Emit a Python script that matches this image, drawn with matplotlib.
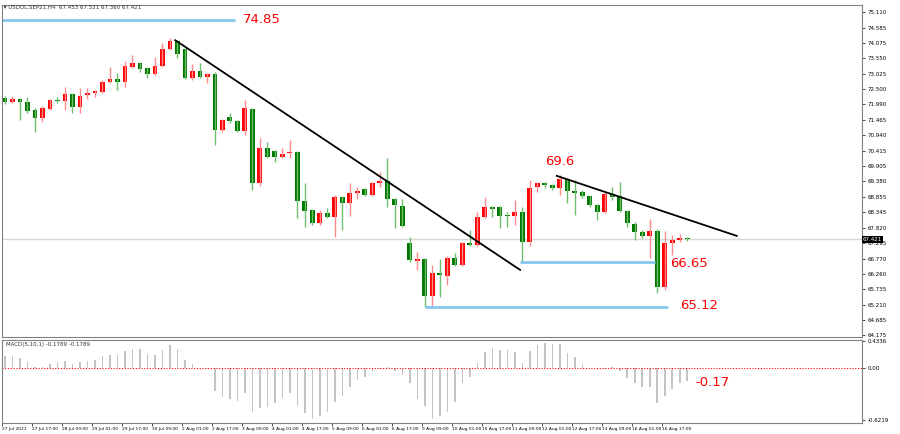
import matplotlib
matplotlib.use("Agg")
from matplotlib import pyplot as plt
import numpy as np

# H4 candles, USOIL SEP21 (red = up, green = down)
opens = [72.20, 72.07, 72.17, 72.07, 71.80, 71.53, 71.83, 72.14, 72.10, 72.34, 71.90, 72.30, 72.37, 72.41, 72.74,
         72.85, 72.74, 73.25, 73.39, 73.22, 73.02, 73.29, 73.86, 74.13, 73.86, 72.88, 73.12, 72.91, 73.02, 71.12,
         71.56, 71.43, 71.09, 71.83, 69.33, 70.51, 70.41, 70.21, 70.34, 70.38, 68.72, 68.42, 67.98, 68.32, 68.18,
         68.86, 68.66, 68.99, 69.13, 68.93, 69.33, 69.40, 68.79, 68.55, 67.30, 66.69, 66.76, 65.52, 66.29, 66.19,
         66.80, 66.56, 67.30, 67.24, 68.18, 68.52, 68.52, 68.25, 68.22, 68.35, 67.34, 69.20, 69.33, 69.26, 69.16,
         69.47, 69.06, 69.03, 68.89, 68.59, 68.35, 68.96, 68.89, 68.39, 67.94, 67.67, 67.54, 67.71, 65.82, 67.30,
         67.40, 67.47]
closes = [72.07, 72.17, 72.07, 71.76, 71.53, 71.87, 72.14, 72.10, 72.34, 71.90, 72.27, 72.37, 72.44, 72.74, 72.85,
          72.74, 73.29, 73.39, 73.18, 73.02, 73.29, 73.86, 74.13, 73.69, 72.88, 73.12, 72.91, 73.02, 71.12, 71.46,
          71.43, 71.09, 71.87, 69.33, 70.51, 70.21, 70.21, 70.31, 70.38, 68.72, 68.39, 67.98, 68.32, 68.18, 68.86,
          68.66, 68.99, 69.06, 68.93, 69.33, 69.40, 68.79, 68.59, 67.88, 66.73, 66.76, 65.52, 66.29, 66.22, 66.80,
          66.56, 67.30, 67.24, 68.18, 68.52, 68.45, 68.22, 68.22, 68.35, 67.34, 69.16, 69.33, 69.26, 69.16, 69.47,
          69.06, 68.99, 68.89, 68.59, 68.35, 68.96, 68.86, 68.39, 67.98, 67.67, 67.54, 67.71, 65.82, 67.30, 67.40,
          67.47, 67.42]
highs = [72.27, 72.27, 72.20, 72.24, 71.87, 71.93, 72.17, 72.24, 72.58, 72.37, 72.54, 72.54, 72.47, 72.81, 73.25,
         73.05, 73.45, 73.66, 73.42, 73.25, 73.59, 74.06, 74.23, 74.16, 73.89, 73.35, 73.39, 73.05, 73.08, 71.49,
         71.70, 71.46, 72.14, 71.87, 70.85, 70.72, 70.45, 70.51, 70.78, 70.41, 69.33, 68.45, 68.42, 68.49, 68.93,
         68.89, 69.33, 69.20, 69.16, 69.37, 69.70, 70.17, 68.82, 68.79, 67.51, 66.99, 66.79, 66.56, 66.76, 66.86,
         66.96, 67.34, 67.74, 68.35, 68.86, 68.55, 68.55, 68.35, 68.76, 68.52, 69.43, 69.37, 69.37, 69.30, 69.60,
         69.50, 69.43, 69.09, 68.93, 68.62, 69.03, 69.20, 69.37, 68.42, 68.01, 67.74, 68.11, 67.77, 67.71, 67.57,
         67.61, 67.51]
lows = [72.00, 72.03, 71.46, 71.70, 71.05, 71.39, 71.80, 72.03, 71.80, 71.70, 71.70, 72.17, 72.24, 72.37, 72.71,
        72.47, 72.58, 73.22, 73.08, 72.88, 72.98, 73.25, 73.83, 73.56, 72.85, 72.81, 72.88, 72.71, 70.61, 71.05,
        71.36, 71.05, 70.95, 69.09, 69.23, 70.17, 70.04, 70.17, 70.17, 68.15, 67.84, 67.91, 67.91, 68.15, 67.51,
        67.74, 68.22, 68.79, 68.89, 68.89, 69.20, 68.52, 67.81, 67.84, 66.66, 66.39, 65.14, 65.14, 65.48, 65.88,
        66.52, 66.52, 67.20, 67.20, 68.15, 68.18, 67.81, 67.84, 67.91, 66.66, 67.20, 69.03, 69.16, 69.09, 68.93,
        68.66, 68.25, 68.82, 68.52, 68.08, 68.32, 68.76, 68.35, 67.84, 67.40, 67.47, 66.80, 65.61, 65.72, 66.90,
        67.34, 67.37]

macd = [0.16, 0.167, 0.135, 0.081, 0.014, 0.014, 0.059, 0.081, 0.095, 0.059, 0.086, 0.099, 0.113, 0.158, 0.18, 0.18,
        0.235, 0.262, 0.257, 0.194, 0.18, 0.248, 0.316, 0.262, 0.113, 0.059, 0.002, -0.014, -0.302, -0.383, -0.415,
        -0.442, -0.329, -0.595, -0.541, -0.519, -0.474, -0.406, -0.338, -0.51, -0.609, -0.69, -0.645, -0.595, -0.451,
        -0.37, -0.248, -0.158, -0.113, -0.032, -0.014, 0.014, -0.032, -0.09, -0.203, -0.419, -0.51, -0.69, -0.645,
        -0.595, -0.451, -0.203, -0.113, 0.068, 0.212, 0.271, 0.248, 0.239, 0.216, 0.068, 0.226, 0.316, 0.338, 0.325,
        0.325, 0.203, 0.144, 0.059, 0.005, -0.023, -0.014, 0.014, -0.045, -0.135, -0.203, -0.257, -0.248, -0.474,
        -0.37, -0.284, -0.203, -0.17]

price_ticks = [75.110, 74.585, 74.075, 73.550, 73.025, 72.500, 71.990, 71.465, 70.940, 70.415, 69.905,
               69.380, 68.855, 68.345, 67.820, 67.295, 66.770, 66.260, 65.735, 65.210, 64.685, 64.175]
time_labels = ["27 Jul 2021", "27 Jul 17:00", "28 Jul 09:00", "29 Jul 01:00", "29 Jul 17:00", "30 Jul 09:00",
               "2 Aug 01:00", "2 Aug 17:00", "3 Aug 09:00", "4 Aug 01:00", "4 Aug 17:00", "5 Aug 09:00",
               "6 Aug 01:00", "6 Aug 17:00", "9 Aug 09:00", "10 Aug 01:00", "10 Aug 17:00", "11 Aug 09:00",
               "12 Aug 01:00", "12 Aug 17:00", "13 Aug 09:00", "16 Aug 01:00", "16 Aug 17:00"]

levels = [74.85, 66.65, 65.12]
swing_high = 69.6
last_price = 67.421
macd_last = -0.17

RED = "#ff0000"
GREEN = "#007800"
LEVEL = "#87c8f0"

fig = plt.figure(figsize=(9, 4.34), dpi=100)
ax = fig.add_axes([2 / 900, 97 / 434, 860 / 900, 332 / 434])
axm = fig.add_axes([2 / 900, 11 / 434, 860 / 900, 83 / 434])

x = np.arange(len(opens))
for i in x:
    up = closes[i] >= opens[i]
    body_c = RED if up else GREEN
    wick_c = "#ff8a8a" if up else "#6fbf6f"
    ax.vlines(i, lows[i], highs[i], color=wick_c, lw=1)
    lo, hi = min(opens[i], closes[i]), max(opens[i], closes[i])
    ax.bar(i, max(hi - lo, 0.03), bottom=lo, width=0.65, color=body_c, lw=0)

# swing levels and trend lines
ax.hlines(levels[0], -0.4, 30.7, color=LEVEL, lw=2)
ax.hlines(levels[1], 68.7, 86.7, color=LEVEL, lw=2)
ax.hlines(levels[2], 56, 88.4, color=LEVEL, lw=2)
ax.plot([22.7, 68.7], [74.16, 66.39], color="black", lw=1.3)
ax.plot([73.6, 97.6], [69.57, 67.54], color="black", lw=1.3)
ax.axhline(last_price, color="#d8d8d8", lw=1, zorder=0)

ax.text(31.7, levels[0], f"{levels[0]}", color=RED, fontsize=9.5, va="center")
ax.text(72.0, 70.04, f"{swing_high}", color=RED, fontsize=9.5, va="center")
ax.text(88.7, 66.59, f"{levels[1]}", color=RED, fontsize=9.5, va="center")
ax.text(90.0, 65.17, f"{levels[2]}", color=RED, fontsize=9.5, va="center")
ax.text(0, 1.0, " \u25be USDOL,SEP21,H4  67.453 67.521 67.360 67.421", transform=ax.transAxes,
        fontsize=4, va="top", color="#333333")

ax.set_xlim(-0.4, 114.3)
ax.set_ylim(64.12, 75.35)
ax.yaxis.tick_right()
ax.set_yticks(price_ticks, [f"{v:.3f}" for v in price_ticks], fontsize=4)
ax.tick_params(axis="y", length=2, pad=2, width=0.5)
ax.set_xticks([])
ax.text(1.001, last_price, f"{last_price}", transform=ax.get_yaxis_transform(), fontsize=4,
        color="white", va="center", bbox=dict(facecolor="black", pad=0.5, lw=0))

# MACD pane
axm.bar(x, macd, width=0.22, color="#c4c4c4", lw=0)
axm.axhline(0, color=RED, lw=0.8, ls=(0, (1, 1.5)))
axm.set_xlim(-0.4, 114.3)
axm.set_ylim(-0.74, 0.38)
axm.yaxis.tick_right()
axm.set_yticks([0.36, 0, -0.70], ["0.4336", "0.00", "-0.6219"], fontsize=4)
axm.tick_params(axis="y", length=2, pad=2, width=0.5)
axm.set_xticks(np.arange(len(time_labels)) * 4 - 0.4, time_labels, fontsize=3.2, ha="left")
axm.tick_params(axis="x", length=2, pad=1, width=0.5)
axm.text(0.005, 0.97, "MACD(5,10,1) -0.1789 -0.1789", transform=axm.transAxes, fontsize=4,
         va="top", color="#333333")
axm.text(92.1, -0.2, f"{macd_last}", color=RED, fontsize=9.5, va="center")

for a in (ax, axm):
    for s in a.spines.values():
        s.set_color("#808080")
        s.set_linewidth(0.8)

fig.savefig("out.png", dpi=100)
